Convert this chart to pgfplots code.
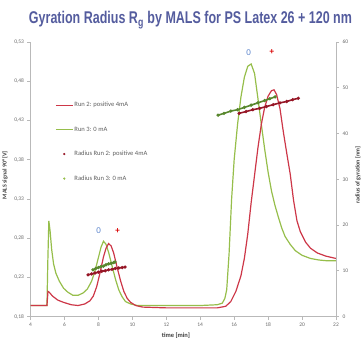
\documentclass[border=0pt]{standalone}
\usepackage{fontspec}
\setmainfont{Carlito}
\newfontfamily\titlefont{Liberation Sans}
\usepackage{pgfplots}
\pgfplotsset{compat=1.18}
\definecolor{runred}{RGB}{205,55,72}
\definecolor{rungreen}{RGB}{150,190,75}
\definecolor{radred}{RGB}{150,22,38}
\definecolor{radgreen}{RGB}{88,135,45}
\definecolor{titleblue}{RGB}{84,92,158}
\definecolor{axgray}{RGB}{185,185,185}
\definecolor{tickgray}{RGB}{105,105,105}
\definecolor{zeroblue}{RGB}{95,135,205}
\definecolor{legtext}{RGB}{95,95,95}
\pgfplotsset{base/.style={
  scale only axis, width=305.5bp, height=274.5bp,
  xmin=4, xmax=22, at={(0,0)}, anchor=south west,
  axis line style={axgray, line width=0.6bp},
  tick align=outside, major tick length=3bp,
  every tick/.style={axgray, line width=0.6bp},
  tick label style={font=\fontsize{5.5}{6}\selectfont, text=tickgray},
  /pgf/number format/assume math mode=true,
  clip=false,
}}
\begin{document}
\begin{tikzpicture}
\useasboundingbox (-30.5bp,-23.5bp) rectangle (333.5bp,316.5bp);
\node[anchor=base, text=titleblue] at (160bp,292.5bp)
  {\resizebox{323bp}{12.3bp}{\titlefont\bfseries Gyration Radius R\textsubscript{g} by MALS for PS Latex 26 + 120 nm}};
\begin{axis}[base,
  axis x line*=bottom, axis y line*=left,
  ymin=0.18, ymax=0.53,
  ytick={0.18,0.23,0.28,0.33,0.38,0.43,0.48,0.53},
  xtick={4,6,...,22},
  yticklabel style={/pgf/number format/.cd, fixed, fixed zerofill, precision=2, use comma},
  xlabel={time [min]},
  xlabel style={at={(axis description cs:0.476,0)}, anchor=north, yshift=-16.5bp, inner sep=0pt, font=\fontsize{6.5}{7}\selectfont\bfseries, text=black!75},
  ylabel={MALS signal 90° [V]},
  ylabel style={at={(axis description cs:-0.0835,0.515)}, anchor=center, inner sep=0pt, font=\fontsize{6}{7}\selectfont\bfseries, text=black!75},
  legend style={at={(axis description cs:0.080,0.785)}, anchor=north west, draw=none, fill=none,
    font=\fontsize{6.6}{7.5}\selectfont, row sep=16.5bp, inner sep=0pt,
    nodes={inner sep=1bp}},
  legend cell align=left,
]
\addlegendimage{legend image code/.code={\draw[draw=runred, line width=1.3bp] (0cm,0cm) -- (0.6cm,0cm);}}
\addlegendentry{\textcolor{legtext}{Run 2: positive 4mA}}
\addlegendimage{legend image code/.code={\draw[draw=rungreen, line width=1.3bp] (0cm,0cm) -- (0.6cm,0cm);}}
\addlegendentry{\textcolor{legtext}{Run 3: 0 mA}}
\addlegendimage{only marks, mark=*, mark size=0.9bp, color=radred}
\addlegendentry{\textcolor{legtext}{Radius Run 2: positive 4mA}}
\addlegendimage{only marks, mark=*, mark size=0.9bp, color=rungreen}
\addlegendentry{\textcolor{legtext}{Radius Run 3: 0 mA}}
% Run 3: 0 mA
\addplot[rungreen, line width=1.2bp, forget plot] coordinates {
(4.0,0.194)(4.97,0.194)(5.02,0.250)(5.08,0.302)(5.15,0.290)(5.25,0.265)(5.36,0.247)
(5.5,0.235)(5.7,0.225)(5.95,0.216)(6.2,0.211)(6.5,0.207)(6.8,0.207)(7.1,0.210)
(7.35,0.215)(7.6,0.225)(7.8,0.238)(8.0,0.255)(8.15,0.268)(8.3,0.276)(8.45,0.272)
(8.6,0.262)(8.8,0.245)(9.0,0.228)(9.2,0.214)(9.4,0.205)(9.6,0.199)(9.9,0.196)
(10.3,0.194)(12.0,0.194)(14.0,0.194)(15.0,0.195)(15.3,0.197)(15.45,0.203)(15.56,0.214)
(15.7,0.260)(15.85,0.330)(16.0,0.380)(16.2,0.425)(16.4,0.460)(16.6,0.485)(16.8,0.499)
(17.0,0.502)(17.2,0.490)(17.4,0.458)(17.6,0.425)(17.8,0.393)(18.0,0.364)(18.2,0.340)
(18.4,0.322)(18.6,0.307)(18.8,0.293)(19.0,0.282)(19.3,0.272)(19.6,0.264)(20.0,0.258)
(20.5,0.254)(21.0,0.252)(21.5,0.251)(22.0,0.251)};
% Run 2: positive 4mA
\addplot[runred, line width=1.2bp, forget plot] coordinates {
(4.0,0.194)(4.97,0.194)(5.03,0.212)(5.1,0.211)(5.3,0.206)(5.6,0.201)(5.95,0.198)
(6.4,0.195)(6.8,0.194)(7.2,0.196)(7.5,0.200)(7.7,0.206)(7.9,0.218)(8.1,0.236)
(8.3,0.256)(8.45,0.267)(8.6,0.273)(8.75,0.270)(8.9,0.261)(9.1,0.243)(9.3,0.226)
(9.5,0.212)(9.7,0.203)(9.9,0.198)(10.2,0.194)(10.6,0.192)(12.0,0.191)(14.0,0.191)
(15.0,0.191)(15.5,0.193)(15.8,0.199)(16.1,0.212)(16.4,0.232)(16.6,0.254)(16.8,0.285)
(17.0,0.325)(17.2,0.360)(17.4,0.395)(17.6,0.425)(17.8,0.447)(18.0,0.461)(18.2,0.468)
(18.35,0.469)(18.5,0.463)(18.7,0.445)(18.9,0.415)(19.1,0.388)(19.3,0.362)(19.5,0.328)
(19.7,0.302)(19.9,0.288)(20.2,0.275)(20.5,0.267)(20.9,0.261)(21.4,0.257)(22.0,0.254)};
\node[text=zeroblue, font=\fontsize{9}{10}\selectfont] at (axis cs:8.01,0.289) {0};
\node[text=red!85!black, font=\fontsize{9}{10}\selectfont\bfseries] at (axis cs:9.13,0.289) {+};
\node[text=zeroblue, font=\fontsize{9}{10}\selectfont] at (axis cs:16.86,0.517) {0};
\node[text=red!85!black, font=\fontsize{9}{10}\selectfont\bfseries] at (axis cs:18.22,0.517) {+};
\end{axis}
\begin{axis}[base,
  axis y line*=right, axis x line=none,
  ymin=0, ymax=60, ytick={0,10,...,60},
  ylabel={radius of gyration [nm]},
  ylabel style={at={(axis description cs:1.072,0.515)}, anchor=center, inner sep=0pt, font=\fontsize{6}{7}\selectfont\bfseries, text=black!75},
]
\addplot[radgreen, line width=1.6bp, mark=*, mark size=0.7bp] coordinates {
(7.68,10.2)(7.85,10.5)(8.0,10.7)(8.15,10.9)(8.3,11.0)(8.45,11.3)(8.6,11.5)(8.75,11.6)(8.9,11.8)(8.98,11.9)};
\addplot[radred, line width=1.6bp, mark=*, mark size=0.7bp] coordinates {
(7.39,9.1)(7.6,9.3)(7.8,9.5)(8.0,9.7)(8.2,9.9)(8.4,10.0)(8.6,10.2)(8.8,10.3)(9.0,10.5)(9.2,10.6)(9.4,10.7)(9.57,10.8)};
\addplot[radgreen, line width=1.6bp, mark=*, mark size=0.7bp] coordinates {
(15.05,44.0)(15.4,44.4)(15.8,44.9)(16.2,45.2)(16.6,45.7)(17.0,46.2)(17.4,46.7)(17.8,47.2)(18.1,47.6)(18.41,48.0)};
\addplot[radred, line width=1.6bp, mark=*, mark size=0.7bp] coordinates {
(16.29,44.4)(16.7,44.8)(17.1,45.2)(17.5,45.5)(17.9,45.9)(18.3,46.3)(18.7,46.7)(19.1,47.0)(19.45,47.4)(19.78,47.7)};
\end{axis}
\end{tikzpicture}
\end{document}
